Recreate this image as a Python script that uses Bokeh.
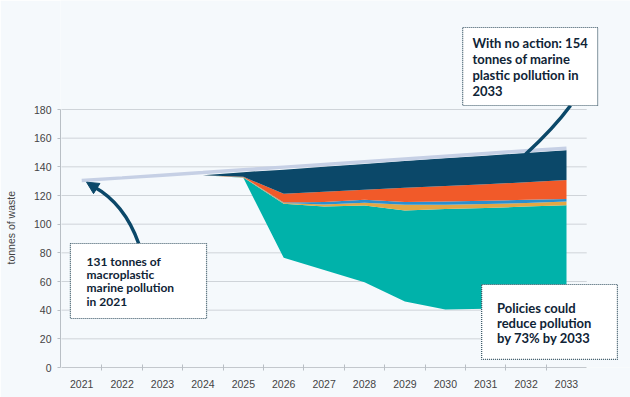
from bokeh.plotting import figure
from bokeh.models import FixedTicker, Arrow, NormalHead
from bokeh.core.properties import value
from bokeh.embed import file_html
from bokeh.resources import INLINE

# ---------------- data ----------------
years_all = [2021, 2022, 2023, 2024, 2025, 2026, 2027, 2028, 2029, 2030, 2031, 2032, 2033]
no_action = [130.5, 132.3, 134.2, 136.0, 137.9, 139.8, 141.7, 143.6, 145.5, 147.4, 149.3, 151.2, 153.0]

years_fan = [2024, 2025, 2026, 2027, 2028, 2029, 2030, 2031, 2032, 2033]
policy_level = [134.2, 132.4, 76.5, 68.0, 59.5, 46.0, 40.5, 41.0, 41.5, 41.5]
teal_top = [134.2, 132.6, 114.2, 112.3, 113.0, 109.5, 110.5, 111.2, 112.3, 113.2]
gold_top = [134.2, 132.7, 114.8, 113.8, 114.9, 113.5, 113.6, 114.0, 114.8, 115.8]
blue_top = [134.2, 132.8, 115.2, 115.5, 117.0, 115.4, 115.8, 116.3, 117.0, 117.6]
orange_top = [134.2, 133.0, 121.2, 122.6, 124.0, 125.4, 126.6, 127.8, 129.3, 130.9]
navy_top = [134.2, 136.3, 138.0, 140.0, 142.0, 144.0, 146.0, 147.8, 149.7, 151.5]

y_ticks = [0, 20, 40, 60, 80, 100, 120, 140, 160, 180]
x_bounds = [2021.5, 2022.5, 2023.5, 2024.5, 2025.5, 2026.5, 2027.5, 2028.5, 2029.5,
            2030.5, 2031.5, 2032.5]

# ---------------- styling ----------------
BG = "#f5f9fc"
NAVY = "#0b4869"
ORANGE = "#f15a29"
BLUE = "#2a8fcf"
GOLD = "#e3a744"
TEAL = "#00b2aa"
LINE = "#c6d0e5"
TXT = "#0f2436"
AX = "#444444"

p = figure(width=630, height=397, output_backend="svg", toolbar_location=None,
           x_range=(2020.475, 2034.584), y_range=(0, 256.05),
           min_border_left=60, min_border_right=0, min_border_top=0, min_border_bottom=30)
p.background_fill_color = BG
p.border_fill_color = BG
p.outline_line_color = None
p.xgrid.visible = False
p.ygrid.visible = False

# gridlines
p.segment(x0=[2020.5] * len(y_ticks[1:]), x1=[2033.5] * len(y_ticks[1:]),
          y0=y_ticks[1:], y1=y_ticks[1:], line_color="#cfd4d9", line_width=1)

# stacked bands
p.varea(x=years_fan, y1=policy_level, y2=teal_top, fill_color=TEAL)
p.varea(x=years_fan, y1=teal_top, y2=gold_top, fill_color=GOLD)
p.varea(x=years_fan, y1=gold_top, y2=blue_top, fill_color=BLUE)
p.varea(x=years_fan, y1=blue_top, y2=orange_top, fill_color=ORANGE)
p.varea(x=years_fan, y1=orange_top, y2=navy_top, fill_color=NAVY)

# no-action line
p.line(x=years_all, y=no_action, line_color=LINE, line_width=3.5)

# axes
xa = p.xaxis[0]
xa.ticker = FixedTicker(ticks=years_all, minor_ticks=x_bounds)
xa.bounds = (2020.5, 2033.5)
xa.major_tick_out = 0
xa.major_tick_in = 0
xa.minor_tick_out = 3
xa.minor_tick_in = 3
xa.minor_tick_line_color = "#b9bfc5"
xa.axis_line_color = "#c3c8cd"
xa.major_label_standoff = 9
xa.major_label_text_font = "Liberation Sans"
xa.major_label_text_font_size = "10.5px"
xa.major_label_text_color = AX

ya = p.yaxis[0]
ya.ticker = FixedTicker(ticks=y_ticks)
ya.bounds = (0, 180)
ya.major_tick_out = 3
ya.major_tick_in = 0
ya.minor_tick_out = 0
ya.minor_tick_in = 0
ya.major_tick_line_color = "#b9bfc5"
ya.axis_line_color = "#b9bfc5"
ya.major_label_standoff = 6
ya.major_label_text_font = "Liberation Sans"
ya.major_label_text_font_size = "10.5px"
ya.major_label_text_color = AX
ya.axis_label = "tonnes of waste" + "\u00a0" * 30
ya.axis_label_standoff = 14
ya.axis_label_text_font = "Liberation Sans"
ya.axis_label_text_font_size = "10.5px"
ya.axis_label_text_font_style = "normal"
ya.axis_label_text_color = AX

# arrows
p.quadratic(x0=[2022.41], y0=[86.5], x1=[2021.29], y1=[126.3], cx=[2022.06], cy=[114.4],
            line_color=NAVY, line_width=3.5)
p.add_layout(Arrow(x_start=2021.29, y_start=126.3, x_end=years_all[0] + 0.12, y_end=no_action[0] - 1.2,
                   line_color=NAVY, line_width=3.5,
                   end=NormalHead(size=12, fill_color=NAVY, line_color=NAVY, line_width=1)))
p.quadratic(x0=[2033.1], y0=[182.8], x1=[2031.98], y1=[148.6], cx=[2032.7], cy=[167.4],
            line_color=NAVY, line_width=3.5)

# boxes
p.quad(left=[2020.72, 2030.43, 2030.90], right=[2024.09, 2033.77, 2034.26],
       bottom=[34.2, 182.8, 5.6], top=[86.5, 237.2, 57.9],
       fill_color="white", line_color="#33505f", line_width=1.2, line_dash="1 1")

p.text(x=[2021.12], y=[79.4], text=["131 tonnes of\nmacroplastic\nmarine pollution\nin 2021"],
       text_font=value("Lato"), text_font_style="bold", text_font_size="12px",
       text_color=TXT, text_align="left", text_baseline="top", text_line_height=0.89)
p.text(x=[2030.67], y=[232.2], text=["With no action: 154\ntonnes of marine\nplastic pollution in\n2033"],
       text_font=value("Lato"), text_font_style="bold", text_font_size="13px",
       text_color=TXT, text_align="left", text_baseline="top", text_line_height=1.0)
p.text(x=[2031.28], y=[47.0], text=["Policies could\nreduce pollution\nby 73% by 2033"],
       text_font=value("Lato"), text_font_style="bold", text_font_size="13px",
       text_color=TXT, text_align="left", text_baseline="top", text_line_height=0.93)

open("out.html", "w").write(file_html(p, INLINE))
